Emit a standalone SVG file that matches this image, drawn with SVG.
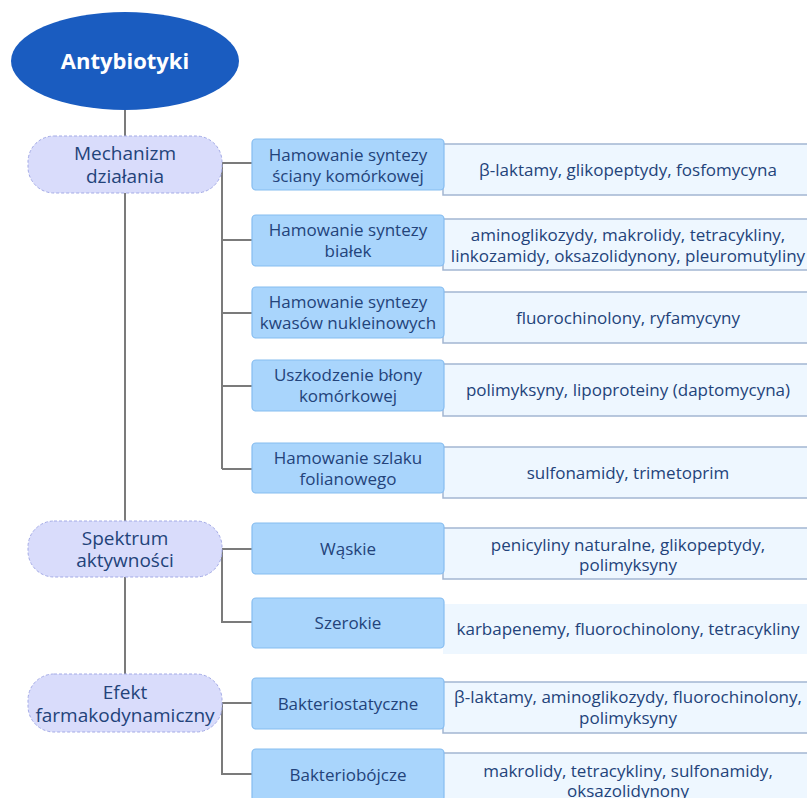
<svg xmlns="http://www.w3.org/2000/svg" width="807" height="798" viewBox="0 0 807 798">
<style>
text{font-family:"Open Sans","Noto Sans","DejaVu Sans",sans-serif;fill:#23437a;text-anchor:middle}
.cat text{font-size:19px}
.mid text{font-size:17px}
.det text{font-size:17px}
.cat rect{fill:#d9dcfb;stroke:#a3aae6;stroke-width:1;stroke-dasharray:3 2}
.mid rect{fill:#a9d5fc;stroke:#86bdf0;stroke-width:1.2}
.det rect{fill:#eef7ff;stroke:#a3b6d2;stroke-width:1.5}
.det rect.nb{stroke:none}
#connectors path{fill:none;stroke:#7b7b7b;stroke-width:2}
</style>
<rect width="807" height="798" fill="#ffffff"/>
<g id="connectors">
<path d="M125 110V674"/>
<path d="M222 163H252M222 163V469M222 240H252M222 313H252M222 386H252M222 469H252"/>
<path d="M222 549H252M222 549V622H252"/>
<path d="M222 703H252M222 703V774H252"/>
</g>
<g id="root">
<ellipse cx="125" cy="61" rx="114" ry="49" fill="#1a5cc0"/>
<text x="125" y="69" style="font-size:22px;font-weight:bold;fill:#ffffff">Antybiotyki</text>
</g>
<g id="cat-mechanizm" class="cat"><rect x="28" y="136" width="194" height="57" rx="26"/><text x="125" y="160">Mechanizm</text><text x="125" y="183">działania</text></g>
<g id="cat-spektrum" class="cat"><rect x="28" y="521" width="194" height="56" rx="26"/><text x="125" y="545">Spektrum</text><text x="125" y="567">aktywności</text></g>
<g id="cat-efekt" class="cat"><rect x="28" y="674" width="194" height="58" rx="26"/><text x="125" y="699">Efekt</text><text x="125" y="722">farmakodynamiczny</text></g>

<g id="det1" class="det"><rect x="443" y="144" width="380" height="51"/><text x="628" y="176">β-laktamy, glikopeptydy, fosfomycyna</text></g>
<g id="det2" class="det"><rect x="443" y="219" width="380" height="51"/><text x="628" y="241">aminoglikozydy, makrolidy, tetracykliny,</text><text x="628" y="262">linkozamidy, oksazolidynony, pleuromutyliny</text></g>
<g id="det3" class="det"><rect x="443" y="292" width="380" height="51"/><text x="628" y="324">fluorochinolony, ryfamycyny</text></g>
<g id="det4" class="det"><rect x="443" y="364" width="380" height="52"/><text x="628" y="396">polimyksyny, lipoproteiny (daptomycyna)</text></g>
<g id="det5" class="det"><rect x="443" y="447" width="380" height="51"/><text x="628" y="479">sulfonamidy, trimetoprim</text></g>
<g id="det6" class="det"><rect x="443" y="528" width="380" height="51"/><text x="628" y="551">penicyliny naturalne, glikopeptydy,</text><text x="628" y="571">polimyksyny</text></g>
<g id="det7" class="det"><rect class="nb" x="443" y="604" width="380" height="50"/><text x="628" y="635">karbapenemy, fluorochinolony, tetracykliny</text></g>
<g id="det8" class="det"><rect x="443" y="682" width="380" height="51"/><text x="628" y="703">β-laktamy, aminoglikozydy, fluorochinolony,</text><text x="628" y="724">polimyksyny</text></g>
<g id="det9" class="det"><rect x="443" y="753" width="380" height="51"/><text x="628" y="777">makrolidy, tetracykliny, sulfonamidy,</text><text x="628" y="797">oksazolidynony</text></g>

<g id="mid1" class="mid"><rect x="252" y="139" width="192" height="51" rx="4"/><text x="348" y="161">Hamowanie syntezy</text><text x="348" y="182">ściany komórkowej</text></g>
<g id="mid2" class="mid"><rect x="252" y="215" width="192" height="51" rx="4"/><text x="348" y="236">Hamowanie syntezy</text><text x="348" y="257">białek</text></g>
<g id="mid3" class="mid"><rect x="252" y="287" width="192" height="51" rx="4"/><text x="348" y="308">Hamowanie syntezy</text><text x="348" y="329">kwasów nukleinowych</text></g>
<g id="mid4" class="mid"><rect x="252" y="360" width="192" height="51" rx="4"/><text x="348" y="381">Uszkodzenie błony</text><text x="348" y="402">komórkowej</text></g>
<g id="mid5" class="mid"><rect x="252" y="443" width="192" height="50" rx="4"/><text x="348" y="464">Hamowanie szlaku</text><text x="348" y="485">folianowego</text></g>
<g id="mid6" class="mid"><rect x="252" y="523" width="192" height="51" rx="4"/><text x="348" y="555">Wąskie</text></g>
<g id="mid7" class="mid"><rect x="252" y="598" width="192" height="50" rx="4"/><text x="348" y="629">Szerokie</text></g>
<g id="mid8" class="mid"><rect x="252" y="678" width="192" height="51" rx="4"/><text x="348" y="710">Bakteriostatyczne</text></g>
<g id="mid9" class="mid"><rect x="252" y="749" width="192" height="52" rx="4"/><text x="348" y="781">Bakteriobójcze</text></g>
</svg>
